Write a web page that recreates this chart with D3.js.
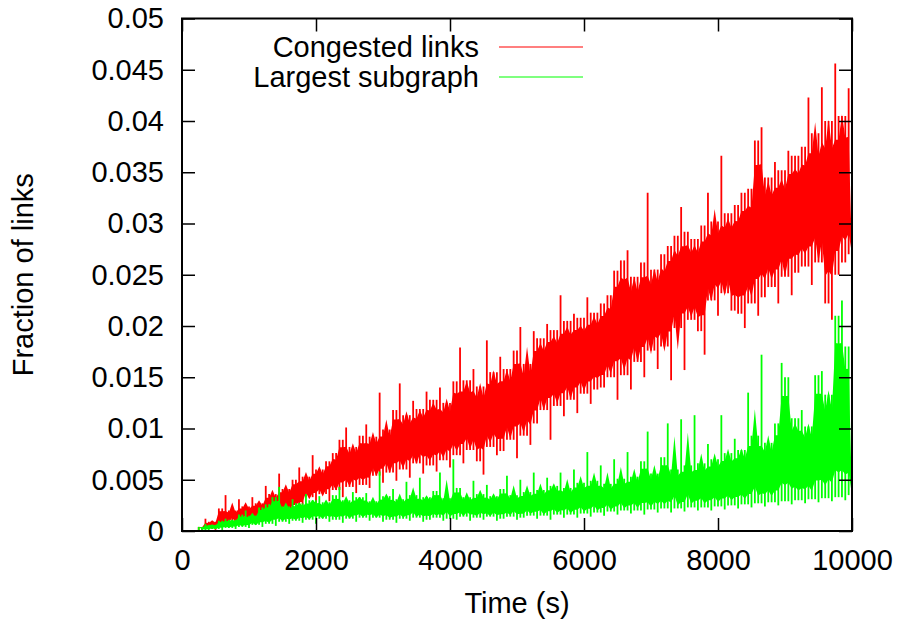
<!DOCTYPE html>
<html>
<head>
<meta charset="utf-8">
<script src="https://cdn.jsdelivr.net/npm/d3@7"></script>
<style>
  body { margin: 0; background: #fff; }
  svg text { font-family: "Liberation Sans", Arial, sans-serif; fill: #000; }
</style>
</head>
<body>
<div id="chart"></div>
<script>
// samples every 50 s, starting at 250 s (alternating upper / lower swing)
const startTime = 250;
const sampleStep = 50;

const congestedLinks = [
  0.0004, 0.0000, 0.0012, 0.0002, 0.0009, 0.0001, 0.0022, 0.0004, 0.0035, 0.0006,
  0.0020, 0.0010, 0.0031, 0.0005, 0.0024, 0.0012, 0.0033, 0.0007, 0.0027, 0.0013,
  0.0044, 0.0011, 0.0036, 0.0019, 0.0056, 0.0013, 0.0041, 0.0021, 0.0050, 0.0016,
  0.0062, 0.0024, 0.0053, 0.0033, 0.0074, 0.0027, 0.0060, 0.0036, 0.0068, 0.0029,
  0.0076, 0.0040, 0.0089, 0.0033, 0.0101, 0.0043, 0.0082, 0.0037, 0.0093, 0.0045,
  0.0104, 0.0042, 0.0092, 0.0054, 0.0135, 0.0047, 0.0099, 0.0057, 0.0118, 0.0049,
  0.0144, 0.0060, 0.0113, 0.0052, 0.0127, 0.0066, 0.0119, 0.0056, 0.0136, 0.0064,
  0.0128, 0.0058, 0.0140, 0.0069, 0.0125, 0.0062, 0.0146, 0.0074, 0.0179, 0.0066,
  0.0147, 0.0079, 0.0158, 0.0068, 0.0141, 0.0055, 0.0186, 0.0082, 0.0155, 0.0074,
  0.0170, 0.0078, 0.0158, 0.0089, 0.0176, 0.0071, 0.0199, 0.0093, 0.0163, 0.0084,
  0.0195, 0.0105, 0.0188, 0.0118, 0.0202, 0.0089, 0.0196, 0.0122, 0.0230, 0.0112,
  0.0205, 0.0128, 0.0212, 0.0115, 0.0208, 0.0134, 0.0228, 0.0124, 0.0213, 0.0138,
  0.0222, 0.0140, 0.0230, 0.0150, 0.0254, 0.0128, 0.0264, 0.0152, 0.0274, 0.0138,
  0.0248, 0.0165, 0.0262, 0.0150, 0.0330, 0.0176, 0.0255, 0.0158, 0.0270, 0.0180,
  0.0278, 0.0147, 0.0288, 0.0198, 0.0316, 0.0157, 0.0292, 0.0206, 0.0285, 0.0195,
  0.0298, 0.0172, 0.0330, 0.0225, 0.0302, 0.0210, 0.0366, 0.0232, 0.0310, 0.0215,
  0.0318, 0.0212, 0.0330, 0.0198, 0.0334, 0.0222, 0.0381, 0.0210, 0.0394, 0.0228,
  0.0345, 0.0238, 0.0360, 0.0222, 0.0352, 0.0248, 0.0371, 0.0230, 0.0366, 0.0252,
  0.0375, 0.0258, 0.0423, 0.0240, 0.0388, 0.0262, 0.0433, 0.0222, 0.0400, 0.0206,
  0.0456, 0.0250, 0.0405, 0.0262, 0.0432, 0.0270
];

const largestSubgraph = [
  0.0004, 0.0000, 0.0007, 0.0001, 0.0006, 0.0002, 0.0010, 0.0001, 0.0012, 0.0003,
  0.0011, 0.0002, 0.0016, 0.0004, 0.0020, 0.0003, 0.0015, 0.0006, 0.0023, 0.0004,
  0.0026, 0.0007, 0.0033, 0.0005, 0.0043, 0.0009, 0.0024, 0.0007, 0.0031, 0.0010,
  0.0027, 0.0008, 0.0036, 0.0011, 0.0030, 0.0007, 0.0034, 0.0012, 0.0028, 0.0009,
  0.0035, 0.0011, 0.0043, 0.0008, 0.0030, 0.0012, 0.0038, 0.0009, 0.0033, 0.0013,
  0.0037, 0.0010, 0.0029, 0.0013, 0.0058, 0.0009, 0.0034, 0.0011, 0.0041, 0.0008,
  0.0031, 0.0012, 0.0048, 0.0010, 0.0035, 0.0013, 0.0052, 0.0009, 0.0033, 0.0011,
  0.0039, 0.0013, 0.0057, 0.0010, 0.0032, 0.0012, 0.0070, 0.0011, 0.0042, 0.0014,
  0.0033, 0.0010, 0.0049, 0.0013, 0.0036, 0.0011, 0.0045, 0.0014, 0.0034, 0.0010,
  0.0041, 0.0012, 0.0054, 0.0014, 0.0035, 0.0011, 0.0050, 0.0013, 0.0038, 0.0015,
  0.0057, 0.0012, 0.0040, 0.0015, 0.0052, 0.0011, 0.0044, 0.0016, 0.0057, 0.0013,
  0.0042, 0.0016, 0.0060, 0.0013, 0.0047, 0.0017, 0.0077, 0.0014, 0.0049, 0.0018,
  0.0064, 0.0015, 0.0046, 0.0019, 0.0070, 0.0016, 0.0051, 0.0020, 0.0077, 0.0017,
  0.0053, 0.0020, 0.0068, 0.0016, 0.0097, 0.0021, 0.0056, 0.0018, 0.0072, 0.0022,
  0.0105, 0.0018, 0.0060, 0.0022, 0.0109, 0.0019, 0.0064, 0.0023, 0.0113, 0.0020,
  0.0066, 0.0023, 0.0085, 0.0020, 0.0070, 0.0024, 0.0113, 0.0021, 0.0076, 0.0025,
  0.0090, 0.0022, 0.0079, 0.0026, 0.0135, 0.0023, 0.0093, 0.0027, 0.0172, 0.0024,
  0.0086, 0.0028, 0.0105, 0.0025, 0.0164, 0.0029, 0.0150, 0.0026, 0.0110, 0.0030,
  0.0118, 0.0027, 0.0102, 0.0031, 0.0152, 0.0028, 0.0156, 0.0032, 0.0133, 0.0029,
  0.0210, 0.0033, 0.0225, 0.0030, 0.0180, 0.0035
];

const seriesNames = ['Congested links', 'Largest subgraph'];
const seriesColors = ['#ff0000', '#00ff00'];

const xTicks = [0, 2000, 4000, 6000, 8000, 10000];
const xTickLabels = ['0', '2000', '4000', '6000', '8000', '10000'];
const yTicks = [0, 0.005, 0.01, 0.015, 0.02, 0.025, 0.03, 0.035, 0.04, 0.045, 0.05];
const yTickLabels = ['0', '0.005', '0.01', '0.015', '0.02', '0.025', '0.03', '0.035', '0.04', '0.045', '0.05'];

const xLabel = 'Time (s)';
const yLabel = 'Fraction of links';

class NoisyLineChart {

    constructor(_config, _series) {
        this.config = {
            parentElement: _config.parentElement,
            containerWidth: _config.containerWidth || 904,
            containerHeight: _config.containerHeight || 626,
            margin: _config.margin || { top: 18.5, right: 52, bottom: 95, left: 182 }
        }
        this.series = _series;
        this.initVis();
    }

    initVis() {
        let vis = this;

        vis.width = vis.config.containerWidth - vis.config.margin.left - vis.config.margin.right;
        vis.height = vis.config.containerHeight - vis.config.margin.top - vis.config.margin.bottom;

        vis.xScale = d3.scaleLinear()
            .domain([0, 10000])
            .range([0, vis.width]);

        vis.yScale = d3.scaleLinear()
            .domain([0, 0.05])
            .range([vis.height, 0]);

        vis.svg = d3.select(vis.config.parentElement).append('svg')
            .attr('width', vis.config.containerWidth)
            .attr('height', vis.config.containerHeight)
            .style('background', '#fff');

        vis.chart = vis.svg.append('g')
            .attr('transform', `translate(${vis.config.margin.left},${vis.config.margin.top})`);

        vis.chart.append('clipPath')
            .attr('id', 'plot-clip')
            .append('rect')
            .attr('width', vis.width)
            .attr('height', vis.height);

        vis.renderVis();
        vis.renderAxes();
        vis.renderLegend();
    }

    renderVis() {
        let vis = this;
        const trim = 0.15;

        // solid core of the noise: inner part of the range of the 5 neighbouring samples
        const band = d3.area()
            .x(d => vis.xScale(d.t))
            .y0(d => vis.yScale(d.lo))
            .y1(d => vis.yScale(d.hi));

        const plot = vis.chart.append('g').attr('clip-path', 'url(#plot-clip)');

        vis.series.forEach(s => {
            const v = s.values;
            const pts = v.map((val, i) => {
                // each sample is a vertical swing towards the neighbour closest to it
                const nb = [v[i - 1], v[i + 1]].filter(n => n !== undefined);
                const near = nb.reduce((a, b) => Math.abs(b - val) < Math.abs(a - val) ? b : a);
                return { t: startTime + i * sampleStep, v: val, near: near };
            });
            const bandPts = pts.map((p, i) => {
                const w = v.slice(Math.max(0, i - 2), Math.min(v.length, i + 3)).sort(d3.ascending);
                const lo = w[1] ?? w[0], hi = w[w.length - 2] ?? w[0];
                return { t: p.t, lo: lo + trim * (hi - lo), hi: hi - trim * (hi - lo) };
            });

            const g = plot.append('g');

            g.append('path')
                .attr('d', band(bandPts))
                .attr('fill', s.color)
                .attr('stroke', 'none');

            g.selectAll('.swing')
                .data(pts)
                .join('line')
                .attr('class', 'swing')
                .attr('x1', d => vis.xScale(d.t))
                .attr('x2', d => vis.xScale(d.t))
                .attr('y1', d => vis.yScale(d.near))
                .attr('y2', d => vis.yScale(d.v))
                .attr('stroke', s.color)
                .attr('stroke-width', 1.8);
        });
    }

    renderAxes() {
        let vis = this;
        const tickLen = 13;
        const fontSize = 29;

        const xAxis = d3.axisBottom(vis.xScale)
            .tickValues(xTicks)
            .tickFormat((d, i) => xTickLabels[i])
            .tickSize(-tickLen)
            .tickPadding(18);

        const yAxis = d3.axisLeft(vis.yScale)
            .tickValues(yTicks)
            .tickFormat((d, i) => yTickLabels[i])
            .tickSize(-tickLen)
            .tickPadding(18);

        const xAxisTop = d3.axisTop(vis.xScale).tickValues(xTicks).tickFormat('').tickSize(-tickLen);
        const yAxisRight = d3.axisRight(vis.yScale).tickValues(yTicks).tickFormat('').tickSize(-tickLen);

        const groups = [
            vis.chart.append('g').attr('transform', `translate(0,${vis.height})`).call(xAxis),
            vis.chart.append('g').call(yAxis),
            vis.chart.append('g').call(xAxisTop),
            vis.chart.append('g').attr('transform', `translate(${vis.width},0)`).call(yAxisRight)
        ];
        groups.forEach(g => {
            g.select('.domain').remove();
            g.selectAll('.tick line').attr('stroke', '#000').attr('stroke-width', 1.5);
            g.selectAll('text')
                .attr('font-size', fontSize)
                .attr('font-family', '"Liberation Sans", Arial, sans-serif')
                .attr('fill', '#000');
        });

        // plot border
        vis.chart.append('rect')
            .attr('width', vis.width)
            .attr('height', vis.height)
            .attr('fill', 'none')
            .attr('stroke', '#000')
            .attr('stroke-width', 2);

        vis.chart.append('text')
            .attr('x', vis.width / 2)
            .attr('y', vis.height + 82)
            .attr('text-anchor', 'middle')
            .attr('font-size', fontSize)
            .text(xLabel);

        vis.svg.append('text')
            .attr('transform', `translate(33,${vis.config.margin.top + vis.height / 2}) rotate(-90)`)
            .attr('text-anchor', 'middle')
            .attr('font-size', fontSize)
            .text(yLabel);
    }

    renderLegend() {
        let vis = this;
        const legend = vis.svg.append('g');

        vis.series.forEach((s, i) => {
            const y = 47 + i * 30;
            legend.append('text')
                .attr('x', 479)
                .attr('y', y)
                .attr('dy', '0.35em')
                .attr('text-anchor', 'end')
                .attr('font-size', 29)
                .text(s.name);
            legend.append('line')
                .attr('x1', 499)
                .attr('x2', 583)
                .attr('y1', y)
                .attr('y2', y)
                .attr('stroke', s.color)
                .attr('stroke-width', 1.2);
        });
    }
}

const series = [
    { name: seriesNames[0], color: seriesColors[0], values: congestedLinks },
    { name: seriesNames[1], color: seriesColors[1], values: largestSubgraph }
];

new NoisyLineChart({ parentElement: '#chart' }, series);
</script>
</body>
</html>
